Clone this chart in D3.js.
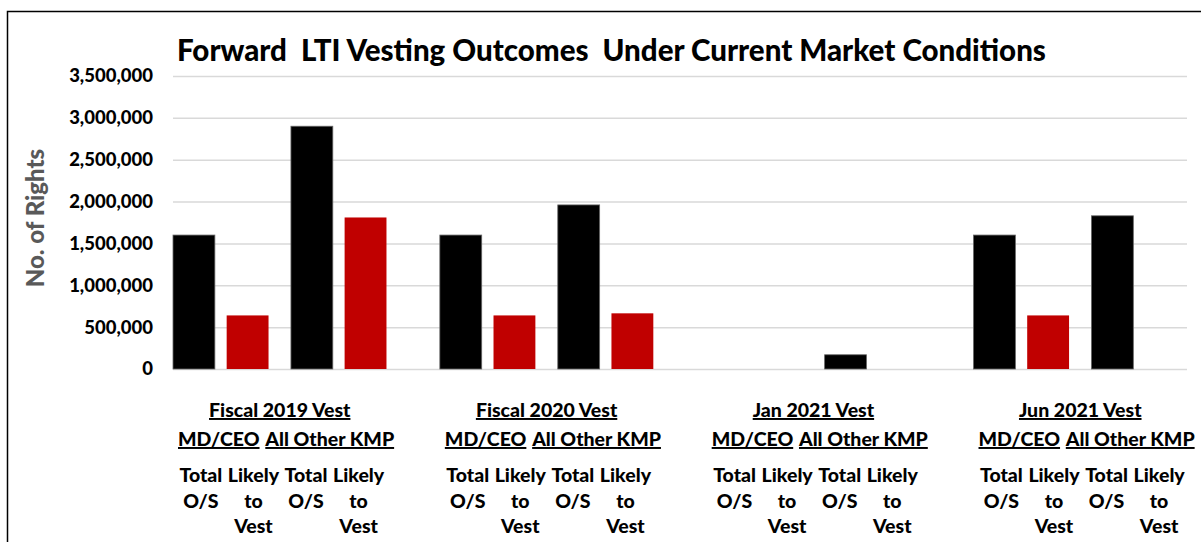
<!DOCTYPE html>
<html lang="en">
<head>
    <meta charset="UTF-8">
    <title>Forward LTI Vesting Outcomes</title>
    <script src="https://d3js.org/d3.v7.min.js"></script>
    <style>
        body { margin: 0; background: #fff; }
        text { font-family: Lato, "Open Sans", sans-serif; font-weight: 900; }
    </style>
</head>
<body>
<div id="chart"></div>

<script>
    // chart values
    const vests = ["Fiscal 2019 Vest", "Fiscal 2020 Vest", "Jan 2021 Vest", "Jun 2021 Vest"];
    const roles = ["MD/CEO", "All Other KMP"];
    const measures = ["Total O/S", "Likely to Vest"];
    const measureLines = [["Total", "O/S"], ["Likely", "to", "Vest"]];
    const mdTotal = [1600000, 1600000, 0, 1600000];
    const mdLikely = [640000, 640000, 0, 640000];
    const otherTotal = [2900000, 1960000, 170000, 1830000];
    const otherLikely = [1810000, 665000, 0, 0];
    const yTicks = [0, 500000, 1000000, 1500000, 2000000, 2500000, 3000000, 3500000];
    const colors = ["#000000", "#c00000"];

    const data = [];
    vests.forEach((v, i) => {
        data.push({ vest: v, role: roles[0], measure: measures[0], value: mdTotal[i] });
        data.push({ vest: v, role: roles[0], measure: measures[1], value: mdLikely[i] });
        data.push({ vest: v, role: roles[1], measure: measures[0], value: otherTotal[i] });
        data.push({ vest: v, role: roles[1], measure: measures[1], value: otherLikely[i] });
    });

    const width = 1201, height = 542;
    const margin = { top: 76, right: 14, bottom: 173, left: 173 };

    const svg = d3.select("#chart").append("svg")
        .attr("width", width)
        .attr("height", height);

    // frame
    svg.append("path")
        .attr("d", `M7.5,${height}V11.5H${width}`)
        .attr("fill", "none")
        .attr("stroke", "#000")
        .attr("stroke-width", 1.5);

    const x0 = d3.scaleBand()
        .domain(vests)
        .range([margin.left, width - margin.right])
        .paddingInner(0.2)
        .paddingOuter(0);

    const x1 = d3.scaleBand()
        .domain(roles)
        .range([0, x0.bandwidth()])
        .paddingInner(0.19)
        .paddingOuter(0);

    const x2 = d3.scaleBand()
        .domain(measures)
        .range([0, x1.bandwidth()])
        .paddingInner(0.22)
        .paddingOuter(0);

    const y = d3.scaleLinear()
        .domain([0, 3500000])
        .range([height - margin.bottom, margin.top]);

    // gridlines + tick labels
    const yAxis = svg.append("g")
        .attr("transform", `translate(${margin.left},0)`)
        .call(d3.axisLeft(y)
            .tickValues(yTicks)
            .tickSize(-(width - margin.left - margin.right))
            .tickPadding(20)
            .tickFormat(d3.format(",")));
    yAxis.select(".domain").remove();
    yAxis.selectAll(".tick line")
        .attr("stroke", "#d9d9d9")
        .attr("stroke-width", 1.5);
    yAxis.selectAll(".tick text")
        .attr("fill", "#000")
        .style("font-size", "18.5px");

    // bars
    svg.append("g")
        .selectAll("rect")
        .data(data.filter(d => d.value > 0))
        .join("rect")
        .attr("x", d => x0(d.vest) + x1(d.role) + x2(d.measure))
        .attr("y", d => y(d.value))
        .attr("width", x2.bandwidth())
        .attr("height", d => y(0) - y(d.value))
        .attr("fill", d => colors[measures.indexOf(d.measure)])
        .attr("stroke", d => d.measure === measures[0] ? "#666" : "none")
        .attr("stroke-width", 0.8);

    // category labels (three levels)
    const cats = svg.append("g").attr("class", "cats");

    cats.selectAll(".vest")
        .data(vests)
        .join("text")
        .attr("class", "vest")
        .attr("x", d => x0(d) + x0.bandwidth() / 2)
        .attr("y", 417)
        .attr("text-anchor", "middle")
        .style("font-size", "19.5px")
        .style("text-decoration", "underline")
        .text(d => d);

    const roleShift = [-2, -9];
    vests.forEach(v => {
        cats.selectAll(null)
            .data(roles)
            .join("text")
            .attr("x", (r, i) => x0(v) + x1(r) + x1.bandwidth() / 2 + roleShift[i])
            .attr("y", 446)
            .attr("text-anchor", "middle")
            .style("font-size", "19.5px")
            .style("text-decoration", "underline")
            .text(r => r);

        // measure labels sit evenly across the cluster
        const xm = d3.scalePoint()
            .domain(d3.range(4))
            .range([0, x0.bandwidth()])
            .padding(0.53);
        d3.range(4).forEach(k => {
            const lines = measureLines[k % 2];
            const t = cats.append("text")
                .attr("x", x0(v) + xm(k))
                .attr("y", 482)
                .attr("text-anchor", "middle")
                .style("font-size", "19.5px");
            t.selectAll("tspan")
                .data(lines)
                .join("tspan")
                .attr("x", x0(v) + xm(k))
                .attr("dy", (d, i) => i === 0 ? 0 : 25.5)
                .text(d => d);
        });
    });

    // y axis title
    svg.append("text")
        .attr("transform", "translate(44,218) rotate(-90)")
        .attr("text-anchor", "middle")
        .attr("fill", "#595959")
        .style("font-size", "24px")
        .text("No. of Rights");

    // chart title
    svg.append("text")
        .attr("x", 177)
        .attr("y", 61)
        .style("font-size", "29.5px")
        .style("white-space", "pre")
        .text("Forward  LTI Vesting Outcomes  Under Current Market Conditions");
</script>
</body>
</html>
